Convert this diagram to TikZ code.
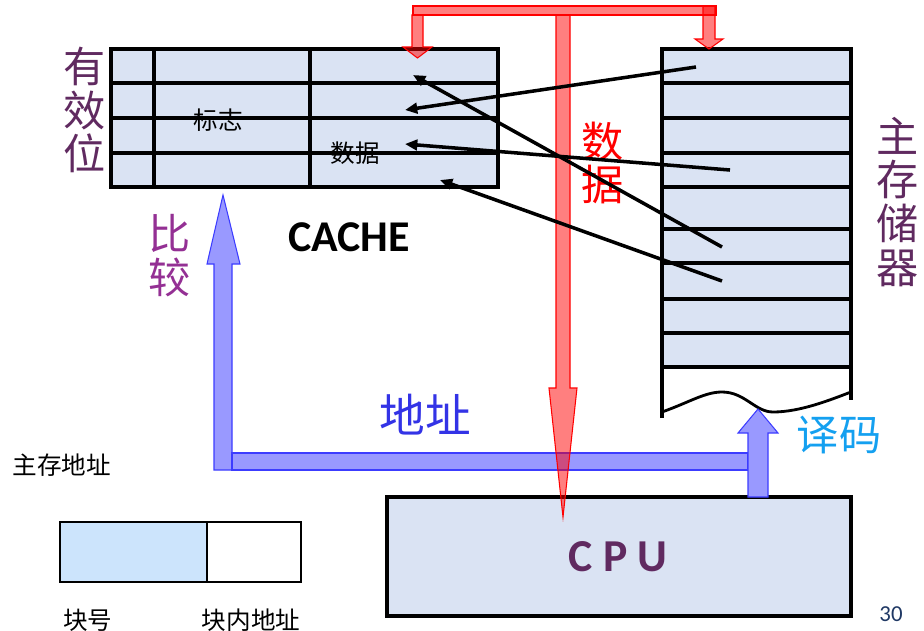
\documentclass[tikz,border=0pt]{standalone}
\usepackage{fontspec}
\setmainfont{Noto Sans CJK SC}
\newfontfamily\cjk{Noto Sans CJK SC}
\newfontfamily\cali{Carlito}
\usetikzlibrary{arrows.meta}
\definecolor{cachebg}{RGB}{218,227,243}
\definecolor{blkbg}{RGB}{204,228,252}
\definecolor{mempurple}{RGB}{96,42,96}
\definecolor{cmpviolet}{RGB}{148,48,148}
\definecolor{addrblue}{RGB}{51,51,230}
\definecolor{decblue}{RGB}{20,160,240}
\definecolor{busblue}{RGB}{153,153,255}
\definecolor{busedge}{RGB}{60,60,255}
\definecolor{pagenum}{RGB}{31,56,100}

\begin{document}
\begin{tikzpicture}[x=0.02cm,y=-0.02cm,
  grid/.style={line width=2.3pt},
  redbus/.style={draw=red,fill=red,fill opacity=0.5,line width=0.6pt},
  bluebus/.style={draw=busedge,fill=busblue,line width=0.6pt},
  big/.style={inner sep=0pt,font=\cjk\fontsize{24}{25}\selectfont,align=center},
  small/.style={inner sep=0pt,font=\cjk\fontsize{14}{16}\selectfont}]
\useasboundingbox (0,0) rectangle (924,630);
% cache
\draw[grid,fill=cachebg] (111,49) rectangle (498,187);
\foreach \y in {83,118,153} {\draw[grid] (111,\y) -- (498,\y);}
\foreach \x in {154,310} {\draw[grid] (\x,49) -- (\x,187);}
% main memory
\fill[cachebg] (662,49) rectangle (851,367);
\draw[grid] (662,418) -- (662,49) -- (851,49) -- (851,400);
\foreach \y in {83,118,153,187,229,263,299,333,367} {\draw[grid] (662,\y) -- (851,\y);}
\draw[line width=1.6pt] (662,412) .. controls (690,402) and (705,392) .. (722,392)
  .. controls (745,392) and (755,412) .. (773,412) .. controls (800,412) and (830,400) .. (851,392);
% cpu
\draw[grid,fill=cachebg] (387,497) rectangle (851,616);
% address bus
\draw[bluebus] (214,470) -- (214,264) -- (207,264) -- (223,195) -- (240,264) -- (232,264) -- (232,470) -- cycle;
\draw[bluebus] (232,453) rectangle (748,470);
\draw[bluebus] (748,497) -- (748,433) -- (738,433) -- (758,409) -- (778,433) -- (768,433) -- (768,497) -- cycle;
% data bus
\draw[redbus] (413,6) rectangle (716,15);
\draw[redbus] (412,15) -- (412,47) -- (403,47) -- (417.5,58) -- (432,47) -- (423,47) -- (423,15) -- cycle;
\draw[redbus] (703,6) -- (703,39) -- (695,39) -- (709,49) -- (723,39) -- (715,39) -- (715,6) -- cycle;
\draw[redbus] (556,15) -- (556,388) -- (549,388) -- (563,517) -- (577,388) -- (570,388) -- (570,15) -- cycle;
% labels
\node[big,mempurple] (valid) at (85,110) {有\\效\\位};
\node[big,mempurple] (mem) at (898,202) {主\\存\\储\\器};
\node[small] (tag) at (218,120) {标志};
\node[small] (dat) at (355,153) {数据};
\node[big,red] (datalbl) at (603,163) {数\\据};
\node[big,cmpviolet] (cmp) at (170,256) {比\\较};
\node[inner sep=0pt,font=\cali\bfseries\fontsize{25}{28}\selectfont] (cache) at (349,237) {CACHE};
\node[big,addrblue,font=\cjk\fontsize{26}{28}\selectfont] (addr) at (425,415) {地址};
\node[big,decblue] (dec) at (839,435) {译码};
\node[inner sep=0pt,mempurple,font=\cali\bfseries\fontsize{26}{28}\selectfont] (cpu) at (618,557) {C P U};
% mapping
\coordinate (m1) at (696,67);  \coordinate (c1) at (405,110);
\coordinate (m2) at (722,247); \coordinate (c2) at (413,75);
\coordinate (m3) at (730,170); \coordinate (c3) at (405,144);
\coordinate (m4) at (722,281); \coordinate (c4) at (440,180);
\foreach \a/\b in {m1/c1,m2/c2,m3/c3,m4/c4} {\draw[line width=2pt,-{Triangle[length=7pt,width=6pt]}] (\a) -- (\b);}
% address format
\node[small] (fmt) at (62,465) {主存地址};
\draw[fill=blkbg,line width=0.7pt] (60,522) rectangle (207,582);
\draw[line width=0.7pt] (207,522) rectangle (301,582);
\node[small] (blk) at (88,620) {块号};
\node[small] (off) at (251,620) {块内地址};
\node[inner sep=0pt,pagenum,font=\cali\fontsize{13}{15}\selectfont] (page) at (891,614) {30};
\end{tikzpicture}
\end{document}
